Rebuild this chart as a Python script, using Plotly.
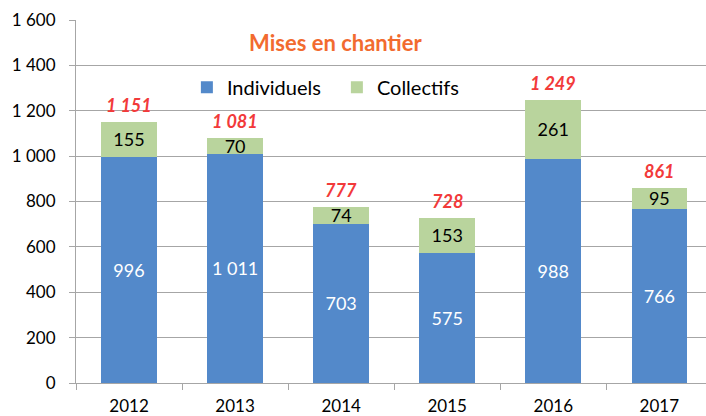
import plotly.graph_objects as go

years = ["2012", "2013", "2014", "2015", "2016", "2017"]
individuels = [996, 1011, 703, 575, 988, 766]
collectifs = [155, 70, 74, 153, 261, 95]
totals = [a + b for a, b in zip(individuels, collectifs)]
y_ticks = [0, 200, 400, 600, 800, 1000, 1200, 1400, 1600]

def fmt(v):
    return f"{v:,}".replace(",", " ")

FONT = "Lato"
BLUE = "#5389CA"
GREEN = "#B9D49D"
GRID = "#A6A6A6"

fig = go.Figure()
fig.add_trace(go.Bar(
    x=years, y=individuels, name="Individuels", marker_color=BLUE,
    marker_line_width=0, width=0.524,
    text=[fmt(v) for v in individuels], textposition="inside",
    insidetextanchor="middle", textangle=0, constraintext="none",
    insidetextfont=dict(color="white", size=18, family=FONT),
))
fig.add_trace(go.Bar(
    x=years, y=collectifs, name="Collectifs", marker_color=GREEN,
    marker_line_width=0, width=0.524,
    text=[fmt(v) for v in collectifs], textposition="inside",
    insidetextanchor="middle", textangle=0, constraintext="none",
    insidetextfont=dict(color="black", size=18, family=FONT),
))

for i, t in enumerate(totals):
    fig.add_annotation(x=i, y=t, xref="x", yref="y",
                       text=f"<b><i>{fmt(t)}</i></b>", showarrow=False,
                       yanchor="bottom", yshift=4,
                       font=dict(color="#F23A3A", size=18, family=FONT))

fig.add_annotation(xref="paper", yref="paper", x=0.412, y=0.939,
                   xanchor="center", yanchor="middle",
                   text="<b>Mises en chantier</b>", showarrow=False,
                   font=dict(color="#F26B2F", size=22, family=FONT))

fig.update_layout(
    width=706, height=416,
    margin=dict(l=76, r=0, t=20, b=33, autoexpand=False),
    barmode="stack",
    plot_bgcolor="white", paper_bgcolor="white",
    separators=", ",
    font=dict(family=FONT, size=16, color="black"),
    showlegend=True,
    legend=dict(orientation="h", x=0.176, y=0.815, xanchor="left", yanchor="middle",
                bgcolor="rgba(0,0,0,0)", font=dict(size=20, family=FONT),
                traceorder="normal", entrywidth=105),
    xaxis=dict(type="category", range=[-0.5, 5.44], showline=True, linecolor=GRID, linewidth=1,
               ticks="outside", tickson="boundaries", ticklen=6, tickcolor=GRID,
               tickfont=dict(size=17, family=FONT), showgrid=False, tickangle=0,
               ticklabelstandoff=8),
    yaxis=dict(range=[0, 1600], tickvals=y_ticks, tickformat=",d",
               showline=True, linecolor=GRID, linewidth=1,
               ticks="outside", ticklen=6, tickcolor=GRID,
               gridcolor=GRID, gridwidth=1, zeroline=False,
               tickfont=dict(size=17, family=FONT), ticklabelstandoff=10),
)

fig.write_html("out.html")
